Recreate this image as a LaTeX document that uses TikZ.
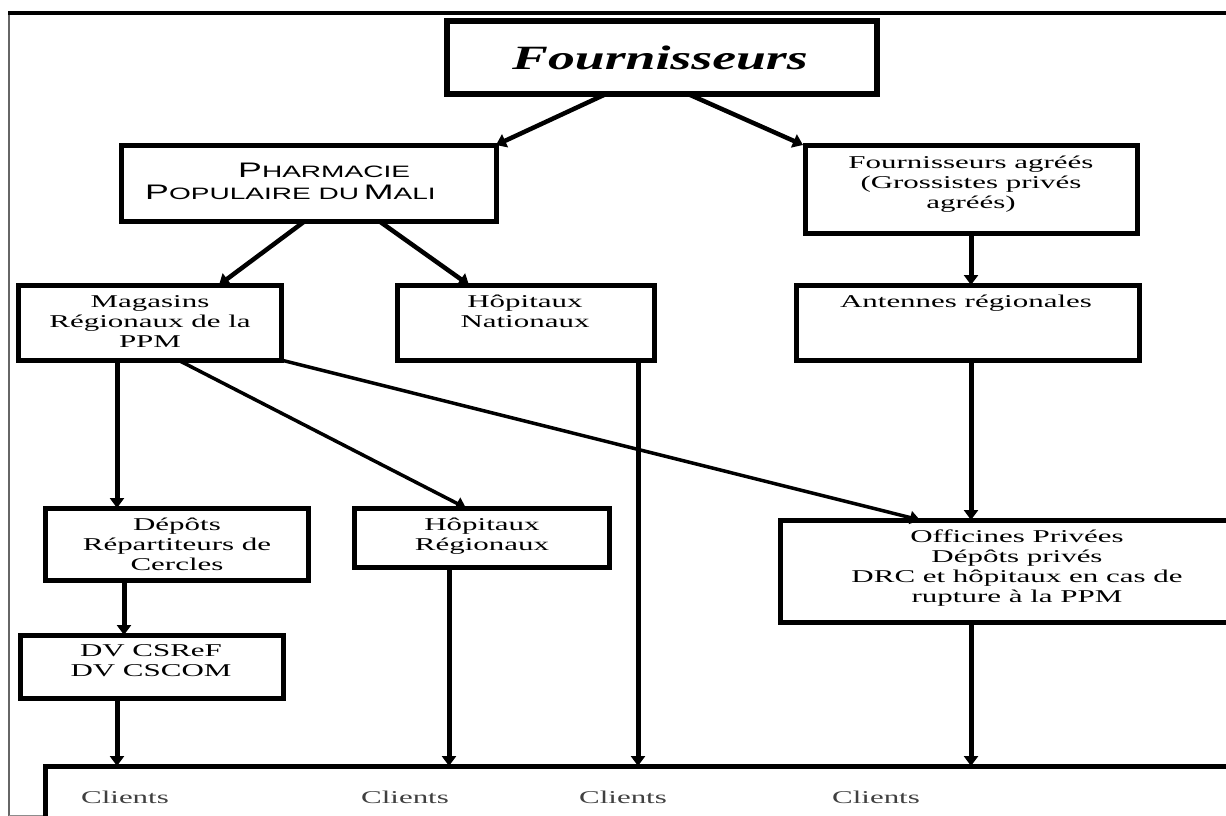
\documentclass[tikz,border=0pt]{standalone}
\usepackage{fontspec}
\usetikzlibrary{arrows.meta,calc}
\newfontfamily\bodyfont[FakeStretch=1.72]{Liberation Serif}
\newfontfamily\titlefont[FakeStretch=1.58]{Liberation Serif}
\newfontfamily\ppmfont[FakeStretch=1.7]{Liberation Sans}
\newcommand{\bigS}[1]{{\fontsize{21}{22}\selectfont #1}}
\newcommand{\smS}[1]{{\fontsize{16.5}{22}\selectfont #1}}
\tikzset{
  box/.style={draw=black, line width=5pt, fill=white, inner sep=0pt, outer sep=0pt, rectangle},
  txt/.style={inner sep=0pt, outer sep=0pt, align=center, anchor=north, font=\bodyfont\fontsize{18}{20}\selectfont},
  cl/.style={inner sep=0pt, anchor=base, text=black!75, font=\bodyfont\fontsize{18}{20}\selectfont},
  arr/.style={line width=5pt, -{Triangle[length=10pt,width=14pt]}},
  arrd/.style={line width=4.5pt, -{Triangle[length=10pt,width=14pt]}},
  arrt/.style={line width=3.5pt, -{Triangle[length=10pt,width=13pt]}}
}
\begin{document}
\begin{tikzpicture}[x=1pt,y=-1pt]
\useasboundingbox (0,0) rectangle (1226,816);
\clip (0,0) rectangle (1226,816);
\fill[white] (0,0) rectangle (1226,816);
% outer frame
\draw[black!60, line width=2pt] (9,13) -- (9,816);
\draw[black!45, line width=1.5pt] (9,815.5) -- (1226,815.5);
\draw[black, line width=3.5pt] (8,13) -- (1226,13);
% boxes
\node[box, line width=6.5pt, minimum width=430, minimum height=73] (four) at (662,57.5) {};
\node[box, minimum width=375, minimum height=76] (ppm) at (308.5,183) {};
\node[box, minimum width=332, minimum height=88] (agree) at (971,189) {};
\node[box, minimum width=263, minimum height=75] (mag) at (149.5,322.5) {};
\node[box, minimum width=257, minimum height=75] (hopnat) at (525.5,322.5) {};
\node[box, minimum width=343, minimum height=75] (ant) at (967.5,322.5) {};
\node[box, minimum width=263, minimum height=72] (dep) at (176.5,544) {};
\node[box, minimum width=255, minimum height=59] (hopreg) at (481.5,537.5) {};
\node[box, minimum width=263, minimum height=63] (dv) at (151.5,666.5) {};
\node[box, minimum width=480, minimum height=102] (off) at (1020,571) {};
\node[box, minimum width=1255, minimum height=74] (clients) at (672.5,803) {};
% texts
\node[inner sep=0pt, font=\titlefont\bfseries\itshape\fontsize{34}{38}\selectfont] (fourT) at (660,58) {Fournisseurs};
\node[inner sep=0pt, anchor=base west, font=\ppmfont] (ppmT1) at (238,177) {\bigS{P}\smS{HARMACIE}};
\node[inner sep=0pt, anchor=base west, font=\ppmfont] (ppmT2) at (145,199) {\bigS{P}\smS{OPULAIRE DU} \bigS{M}\smS{ALI}};
\node[txt] (agreeT) at (971,156) {Fournisseurs agréés\\(Grossistes privés\\agréés)};
\node[txt] (magT) at (150,296) {Magasins\\Régionaux de la\\PPM};
\node[txt] (hopnatT) at (525,295) {Hôpitaux\\Nationaux};
\node[txt] (antT) at (966,295) {Antennes régionales};
\node[txt] (depT) at (177,518) {Dépôts\\Répartiteurs de\\Cercles};
\node[txt] (hopregT) at (482,518) {Hôpitaux\\Régionaux};
\node[txt] (dvT) at (151,645) {DV CSReF\\DV CSCOM};
\node[txt] (offT) at (1017,530) {Officines Privées\\Dépôts privés\\DRC et hôpitaux en cas de\\rupture à la PPM};
\node[cl] (cl1) at (125,803) {Clients};
\node[cl] (cl2) at (405,803) {Clients};
\node[cl] (cl3) at (623,803) {Clients};
\node[cl] (cl4) at (876,803) {Clients};
% connectors
\draw[arrd] ([xshift=-56pt]four.south) -- ([xshift=187.5pt]ppm.north);
\draw[arrd] ([xshift=26pt]four.south) -- ([xshift=-168pt]agree.north);
\draw[arrd] ([xshift=-3.5pt]ppm.south) -- ([xshift=69.5pt]mag.north);
\draw[arrd] ([xshift=70.5pt]ppm.south) -- ([xshift=-56.5pt]hopnat.north);
\draw[arr] (agree.south) -- (agree.south |- ant.north);
\draw[arr] ([xshift=-32.5pt]mag.south) -- ([xshift=-32.5pt]mag.south |- dep.north);
\draw[arrt] ([xshift=28.5pt]mag.south) -- ([xshift=-15.5pt]hopreg.north);
\draw[arrt] (mag.south east) -- ([xshift=-100pt]off.north);
\draw[arr] ([xshift=3.5pt]ant.south) -- ([xshift=3.5pt]ant.south |- off.north);
\draw[arr] ([xshift=-52.5pt]dep.south) -- ([xshift=-52.5pt]dep.south |- dv.north);
\draw[arr] ([xshift=-34.5pt]dv.south) -- ([xshift=-34.5pt]dv.south |- clients.north);
\draw[arr] ([xshift=-32.5pt]hopreg.south) -- ([xshift=-32.5pt]hopreg.south |- clients.north);
\draw[arr] ([xshift=112.5pt]hopnat.south) -- ([xshift=112.5pt]hopnat.south |- clients.north);
\draw[arr] ([xshift=-49pt]off.south) -- ([xshift=-49pt]off.south |- clients.north);
\end{tikzpicture}
\end{document}
